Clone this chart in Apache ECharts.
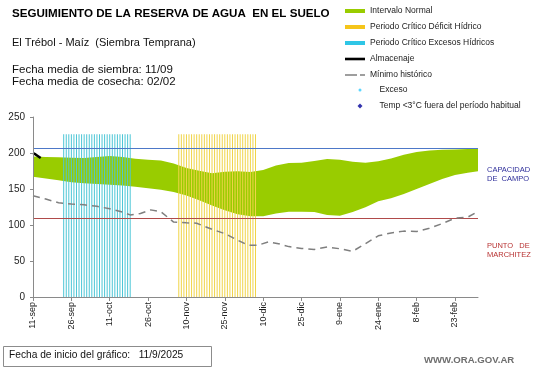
<!DOCTYPE html>
<html><head><meta charset="utf-8">
<script src="https://cdn.jsdelivr.net/npm/echarts@6/dist/echarts.min.js"></script>
<style>html,body{margin:0;padding:0;background:#fff}#c{width:541px;height:368px}</style>
</head><body><div id="c"></div>
<script>
// ---- data ----
const tickDays = [0, 15, 30, 45, 60, 75, 90, 105, 120, 135, 150, 165];
const tickLabels = ['11-sep', '26-sep', '11-oct', '26-oct', '10-nov', '25-nov', '10-dic', '25-dic', '9-ene', '24-ene', '8-feb', '23-feb'];

const bandDays  = [0, 5, 10, 15, 20, 25, 30, 35, 40, 45, 50, 55, 60, 65, 70, 75, 80, 85, 90, 95, 100, 105, 110, 115, 120, 125, 130, 135, 140, 145, 150, 155, 160, 165, 170, 174];
const bandUpper = [195, 194.5, 194, 193.5, 193, 194.5, 196, 194.5, 192, 190.5, 189.5, 185.5, 179, 175.5, 172, 174, 174.5, 173.5, 176.5, 182.5, 186, 186.5, 189, 191.5, 190.5, 188, 186.5, 188.5, 192.5, 197.5, 201.5, 203.5, 204.5, 205, 205.5, 205.5];
const bandLower = [167, 164.5, 162, 159.5, 158, 157, 155.8, 155, 153, 151, 148.8, 146, 141, 134.5, 127, 120.5, 115, 112, 112, 116, 118.5, 118.5, 118, 114, 113, 118, 124.7, 133, 137, 143, 150, 157, 164, 169.5, 172.5, 174.6];

const minDays = [0, 5, 10, 15, 20, 25, 30, 35, 38, 42, 46, 50, 55, 60, 64, 70, 75, 80, 84, 88, 92, 96, 100, 105, 110, 115, 120, 125, 130, 135, 140, 145, 150, 155, 160, 165, 170, 174];
const minHist = [140.5, 136, 131, 129, 128, 126, 122.5, 118, 114, 116, 121, 118.5, 104, 103, 102.5, 94, 88, 79, 72, 72, 76.5, 74, 70, 67.5, 66, 69.5, 67, 63.5, 74, 85, 89, 91.5, 91, 95.5, 102, 109.5, 111, 118.6];

const almDays = [0, 1, 2, 3];
const almacenaje = [200, 198, 195.5, 193];

const excesoCriticoDays = [12, 13, 14, 15, 16, 17, 18, 19, 20, 21, 22, 23, 24, 25, 26, 27, 28, 29, 30, 31, 32, 33, 34, 35, 36, 37, 38];
const deficitCriticoDays = [57, 58, 59, 60, 61, 62, 63, 64, 65, 66, 67, 68, 69, 70, 71, 72, 73, 74, 75, 76, 77, 78, 79, 80, 81, 82, 83, 84, 85, 86, 87];
const criticalTop = 226;

const capacidadCampo = 207;
const puntoMarchitez = 110;
const lastDay = 174;

// ---- chart ----
const FONT = 'Liberation Sans';
const chart = echarts.init(document.getElementById('c'), null, {renderer: 'canvas'});

const pairs = (xs, ys) => xs.map((x, i) => [x, ys[i]]);
const legendText = {fontSize: 8.5, color: '#222', lineHeight: 10, fontFamily: FONT};

const option = {
  animation: false,
  backgroundColor: '#ffffff',
  textStyle: {fontFamily: FONT},
  grid: {left: 33, right: 63, top: 117, bottom: 71, containLabel: false, outerBoundsMode: 'none'},
  xAxis: {
    type: 'value', min: 0, max: lastDay, z: 10,
    axisLine: {lineStyle: {color: '#8a8a8a', width: 1}},
    axisTick: {show: true, length: 4, customValues: tickDays, lineStyle: {color: '#8a8a8a'}},
    axisLabel: {
      customValues: tickDays, rotate: 90, margin: 5, fontSize: 9, color: '#222', fontFamily: FONT,
      formatter: v => { const i = tickDays.indexOf(v); return i >= 0 ? tickLabels[i] : ''; }
    },
    splitLine: {show: false}
  },
  yAxis: {
    type: 'value', min: 0, max: 250, interval: 50, z: 10,
    name: 'Milímetros', nameLocation: 'middle', nameGap: 27, nameRotate: 90,
    nameTextStyle: {fontSize: 7, color: '#222', fontFamily: FONT},
    axisLine: {show: true, lineStyle: {color: '#8a8a8a', width: 1}},
    axisTick: {show: true, length: 3, lineStyle: {color: '#8a8a8a'}},
    axisLabel: {fontSize: 10, color: '#222', margin: 8, fontFamily: FONT},
    splitLine: {show: false}
  },
  legend: [{
    orient: 'vertical', left: 345, top: 6, padding: 0, itemWidth: 20, itemHeight: 4, itemGap: 6,
    textStyle: legendText,
    data: [
      {name: 'Intervalo Normal', icon: 'rect', itemStyle: {color: '#99cc00'}},
      {name: 'Periodo Crítico Déficit Hídrico', icon: 'rect', itemStyle: {color: '#f5c51a'}},
      {name: 'Periodo Crítico Excesos Hídricos', icon: 'rect', itemStyle: {color: '#2fc6e6'}},
      {name: 'Almacenaje', icon: 'path://M0,0H20V2.6H0Z', itemStyle: {color: '#000000'}},
      {name: 'Mínimo histórico', icon: 'path://M0,0H12V1.6H0Z M15,0H20V1.6H15Z', itemStyle: {color: '#7f7f7f'}}
    ]
  }, {
    orient: 'vertical', left: 358.5, top: 85, padding: 0, itemWidth: 3, itemHeight: 3,
    textStyle: Object.assign({padding: [0, 0, 0, 13]}, legendText),
    data: [{name: 'Exceso', icon: 'circle'}]
  }, {
    orient: 'vertical', left: 357.5, top: 101, padding: 0, itemWidth: 5, itemHeight: 5,
    textStyle: Object.assign({padding: [0, 0, 0, 12]}, legendText),
    data: [{name: 'Temp <3°C fuera del período habitual', icon: 'diamond'}]
  }],
  series: [
    {
      name: 'Intervalo Normal', type: 'line', symbol: 'none', color: '#99cc00', z: 2,
      data: pairs(bandDays, bandUpper),
      lineStyle: {width: 0, opacity: 0}, areaStyle: {color: '#99cc00', opacity: 1}
    },
    {
      name: 'bandLower', type: 'line', symbol: 'none', silent: true, color: '#ffffff', z: 2,
      data: pairs(bandDays, bandLower),
      lineStyle: {width: 0, opacity: 0}, areaStyle: {color: '#ffffff', opacity: 1}
    },
    {
      name: 'Periodo Crítico Excesos Hídricos', type: 'bar', barWidth: 1, barGap: '-100%', z: 4,
      color: '#4cc6d6', data: excesoCriticoDays.map(d => [d, criticalTop])
    },
    {
      name: 'Periodo Crítico Déficit Hídrico', type: 'bar', barWidth: 1, barGap: '-100%', z: 4,
      color: '#f0d448', data: deficitCriticoDays.map(d => [d, criticalTop])
    },
    {
      name: 'Mínimo histórico', type: 'line', symbol: 'none', color: '#7f7f7f', z: 6,
      data: pairs(minDays, minHist),
      lineStyle: {color: '#7f7f7f', width: 1.5, type: [7, 5]},
      markLine: {
        silent: true, symbol: 'none', label: {show: false}, z: 5,
        data: [
          {yAxis: capacidadCampo, lineStyle: {color: '#4d78c8', width: 1.2, type: 'solid'}},
          {yAxis: puntoMarchitez, lineStyle: {color: '#b04a4a', width: 1.2, type: 'solid'}}
        ]
      }
    },
    {
      name: 'Almacenaje', type: 'line', symbol: 'none', color: '#000000', z: 7,
      data: pairs(almDays, almacenaje), lineStyle: {color: '#000', width: 2.5}
    },
    {name: 'Exceso', type: 'scatter', color: '#33ccff', data: []},
    {name: 'Temp <3°C fuera del período habitual', type: 'scatter', color: '#000099', data: []}
  ],
  graphic: [
    {type: 'text', left: 12, top: 8, style: {text: 'SEGUIMIENTO DE LA RESERVA DE AGUA  EN EL SUELO', font: 'bold 11.6px "Liberation Sans"', fill: '#000'}},
    {type: 'text', left: 12, top: 37, style: {text: 'El Trébol - Maíz  (Siembra Temprana)', font: '11px "Liberation Sans"', fill: '#111'}},
    {type: 'text', left: 12, top: 64, style: {text: 'Fecha media de siembra: 11/09', font: '11.5px "Liberation Sans"', fill: '#111'}},
    {type: 'text', left: 12, top: 76, style: {text: 'Fecha media de cosecha: 02/02', font: '11.5px "Liberation Sans"', fill: '#111'}},
    {type: 'text', left: 487, top: 166, style: {text: 'CAPACIDAD', font: '7.5px "Liberation Sans"', fill: '#2e2e9a'}},
    {type: 'text', left: 487, top: 175, style: {text: 'DE  CAMPO', font: '7.5px "Liberation Sans"', fill: '#2e2e9a'}},
    {type: 'text', left: 487, top: 242, style: {text: 'PUNTO   DE', font: '7.5px "Liberation Sans"', fill: '#b83232'}},
    {type: 'text', left: 487, top: 251, style: {text: 'MARCHITEZ', font: '7.5px "Liberation Sans"', fill: '#b83232'}},
    {type: 'rect', shape: {x: 3.5, y: 346.5, width: 208, height: 20}, style: {fill: '#fff', stroke: '#8c8c8c', lineWidth: 1}},
    {type: 'text', left: 9, top: 350, style: {text: 'Fecha de inicio del gráfico:   11/9/2025', font: '10.2px "Liberation Sans"', fill: '#111'}},
    {type: 'text', left: 424, top: 355, style: {text: 'WWW.ORA.GOV.AR', font: 'bold 9.6px "Liberation Sans"', fill: '#6e6e6e'}}
  ]
};
chart.setOption(option);
</script>
</body></html>
